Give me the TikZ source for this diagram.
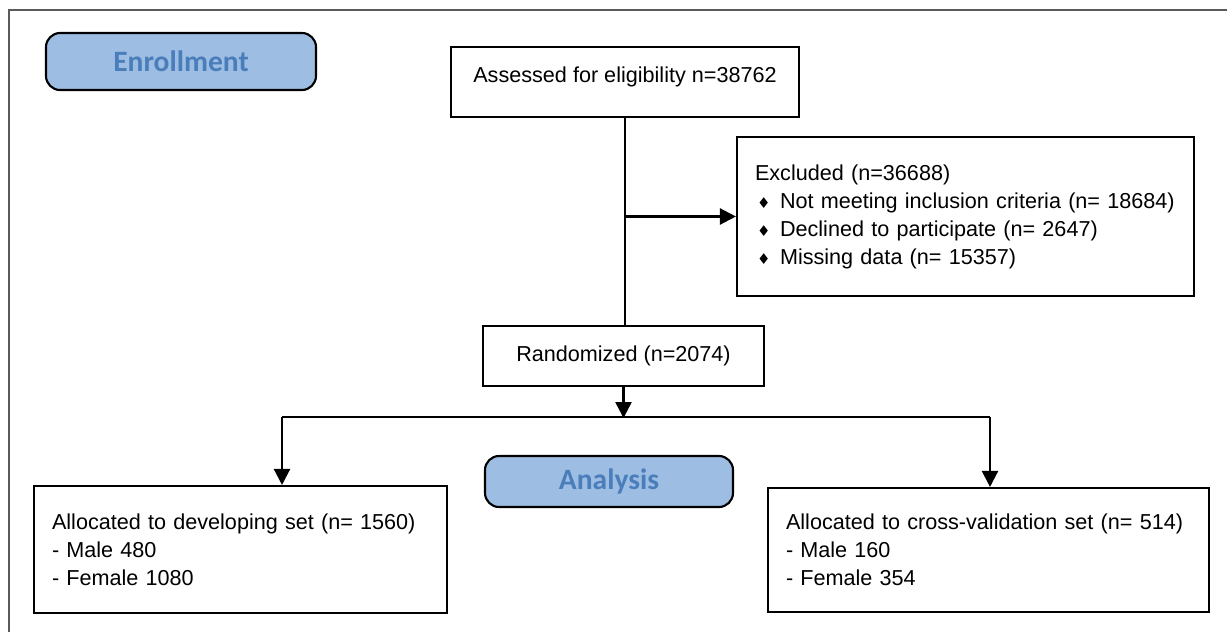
\documentclass[tikz,border=0pt]{standalone}
\usepackage{fontspec}
\setmainfont{Liberation Sans}
\newfontfamily\headfont{Carlito}
\newfontfamily\diafont{DejaVu Sans}
\usetikzlibrary{calc, arrows.meta, positioning}
\definecolor{flowblue}{HTML}{9DBDE2}
\definecolor{flowtext}{HTML}{4A7EBB}
\definecolor{framegray}{HTML}{5A5A5A}
\newcommand{\dia}{\makebox[0.5cm][l]{\hspace{0.04cm}{\diafont\fontsize{8.5}{8.5}\selectfont ♦}}}

\begin{document}
\begin{tikzpicture}[
    box/.style={draw=black, line width=1.2pt, fill=white, inner sep=0pt, font=\fontsize{12.3}{15.9}\selectfont},
    phase/.style={draw=black, line width=1.2pt, rounded corners=8pt, fill=flowblue, text=flowtext, inner sep=0pt, font=\headfont\bfseries\fontsize{16.8}{18}\selectfont},
    arrow/.style={-{Triangle[length=0.32cm, width=0.32cm]}, line width=1.3pt},
    link/.style={line width=1.3pt}
  ]
  \useasboundingbox (0,0) rectangle (24.54,-12.64);
  % page frame
  \draw[framegray, line width=0.85pt] (24.54,-0.2) -- (0.18,-0.2) -- (0.18,-12.64);

  % phase labels
  \node[phase, minimum width=5.4cm, minimum height=1.14cm] (enroll) at (3.62,-1.23) {Enrollment};
  \node[phase, minimum width=4.96cm, minimum height=1.02cm] (anal) at (12.18,-9.63) {Analysis};

  % boxes
  \node[box, minimum width=6.96cm, minimum height=1.4cm] (assess) at (12.5,-1.64) {Assessed for eligibility n=38762\rule[-0.28cm]{0pt}{0pt}};
  \node[box, text width=8.42cm, inner xsep=0.36cm, minimum height=3.18cm, align=left] (excl) at (19.31,-4.33)
    {Excluded (n=36688)\\
     \dia Not meeting inclusion criteria (n= 18684)\\
     \dia Declined to participate (n= 2647)\\
     \dia Missing data (n= 15357)};
  \node[box, minimum width=5.62cm, minimum height=1.2cm] (rand) at (12.47,-7.12) {Randomized (n=2074)};
  \node[box, text width=7.54cm, inner xsep=0.36cm, minimum height=2.54cm, align=left] (dev) at (4.81,-10.99)
    {Allocated to developing set (n= 1560)\\
     - Male 480\\
     - Female 1080};
  \node[box, text width=8.1cm, inner xsep=0.36cm, minimum height=2.48cm, align=left] (cv) at (19.77,-11.0)
    {Allocated to cross-validation set (n= 514)\\
     - Male 160\\
     - Female 354};

  % connectors
  \coordinate (split) at (assess.south |- excl.west);
  \coordinate (fork) at ($(rand.south)+(0,-0.62)$);
  \coordinate (forkL) at (5.64,-8.34);
  \coordinate (forkR) at (19.8,-8.34);
  \draw[link] (assess.south) -- (assess.south |- rand.north);
  \draw[arrow] (split) -- (excl.west);
  \draw[arrow] (rand.south) -- (fork);
  \draw[link] (forkL) -- (forkR);
  \draw[arrow] (forkL) -- (forkL |- dev.north);
  \draw[arrow] (forkR) -- (forkR |- cv.north);
\end{tikzpicture}
\end{document}
